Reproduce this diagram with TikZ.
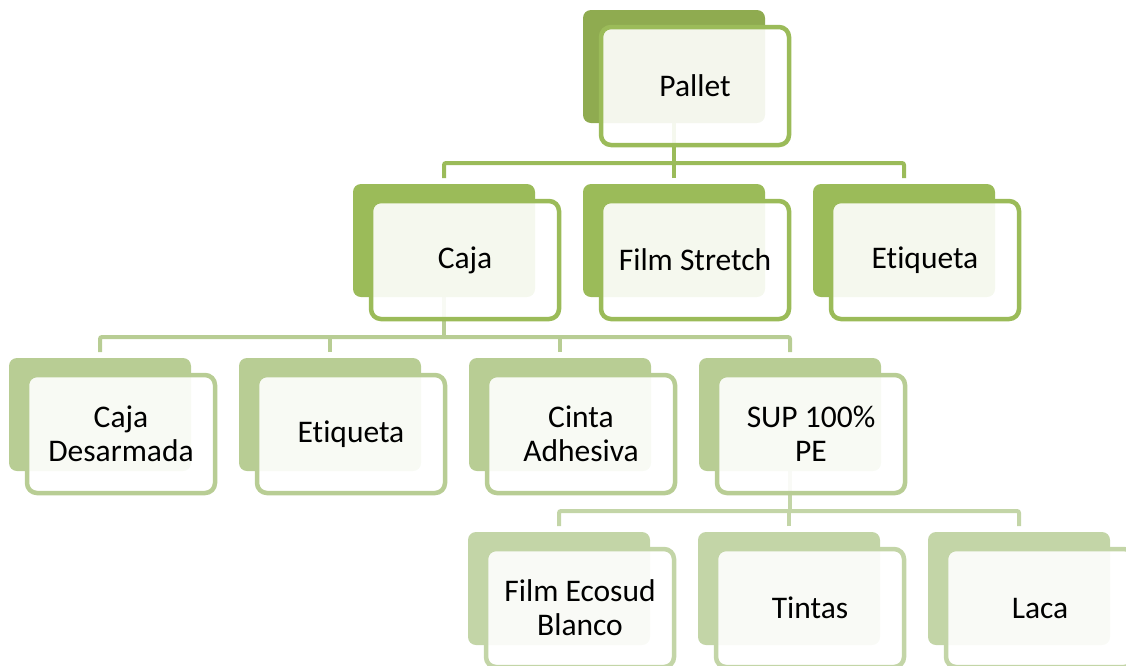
\documentclass[tikz,border=0pt]{standalone}
\usepackage{fontspec}
\setmainfont{Carlito}[Ligatures={NoCommon},RawFeature={-calt}]
\definecolor{gA}{HTML}{8FAB50}
\definecolor{gB}{HTML}{9BBB59}
\definecolor{gC}{HTML}{B8CD94}
\definecolor{gD}{HTML}{C3D5A7}
\tikzset{
  backbox/.style={rectangle, rounded corners=8pt, minimum width=182pt, minimum height=113pt, inner sep=0pt, outer sep=0pt, anchor=north west, draw=none},
  frontbox/.style={rectangle, rounded corners=10pt, minimum width=188pt, minimum height=118pt, inner sep=0pt, outer sep=0pt, anchor=north west, line width=4.5pt, fill=white, fill opacity=0.9, text opacity=1, align=center, font=\fontsize{31.5}{34}\selectfont},
  conn/.style={line width=4pt, rounded corners=2pt}
}
\newcommand{\orgitem}[6]{%
  \node[backbox, fill=#5] (#1) at (#2,#3) {};
  \node[frontbox, draw=#6] (#1f) at (#2+18,#3+17) {#4};
}
\begin{document}
\begin{tikzpicture}[x=1pt,y=-1pt]
\useasboundingbox (0,0) rectangle (1126,665);
\clip (0,0) rectangle (1126,665);
\coordinate (b1) at (674,163);
\coordinate (b2) at (444,337);
\coordinate (b3) at (790,511);
\node[backbox] (p0) at (583,10) {};
\node[backbox] (c0) at (353,184) {};
\node[backbox] (f0) at (583,184) {};
\node[backbox] (e0) at (813,184) {};
\node[backbox] (d0) at (9,358) {};
\node[backbox] (t0) at (239,358) {};
\node[backbox] (a0) at (469,358) {};
\node[backbox] (s0) at (699,358) {};
\node[backbox] (fe0) at (468,532) {};
\node[backbox] (ti0) at (698,532) {};
\node[backbox] (la0) at (928,532) {};
% connectors
\draw[conn, draw=gB] ([yshift=6pt]c0.north) |- (b1) -| ([yshift=6pt]e0.north);
\draw[conn, draw=gB] (p0.south) -- (p0.south |- b1);
\draw[conn, draw=gB] ([yshift=6pt]f0.north) -- (f0.north |- b1);
\draw[conn, draw=gC] ([yshift=6pt]d0.north) |- (b2) -| ([yshift=6pt]s0.north);
\draw[conn, draw=gC] (c0.south) -- (c0.south |- b2);
\draw[conn, draw=gC] ([yshift=6pt]t0.north) -- (t0.north |- b2);
\draw[conn, draw=gC] ([yshift=6pt]a0.north) -- (a0.north |- b2);
\draw[conn, draw=gD] ([yshift=6pt]fe0.north) |- (b3) -| ([yshift=6pt]la0.north);
\draw[conn, draw=gD] (s0.south) -- (s0.south |- b3);
\draw[conn, draw=gD] ([yshift=6pt]ti0.north) -- (ti0.north |- b3);
% boxes
\orgitem{p}{583}{10}{Pallet}{gA}{gB}
\orgitem{c}{353}{184}{Caja}{gB}{gB}
\orgitem{f}{583}{184}{Film Stretch}{gB}{gB}
\orgitem{e}{813}{184}{Et\kern0pt iqueta}{gB}{gB}
\orgitem{d}{9}{358}{Caja\\Desarmada}{gC}{gC}
\orgitem{t}{239}{358}{Et\kern0pt iqueta}{gC}{gC}
\orgitem{a}{469}{358}{Cinta\\Adhesiva}{gC}{gC}
\orgitem{s}{699}{358}{SUP 100\%\\PE}{gC}{gC}
\orgitem{fe}{468}{532}{Film Ecosud\\Blanco}{gD}{gD}
\orgitem{ti}{698}{532}{Tintas}{gD}{gD}
\orgitem{la}{928}{532}{Laca}{gD}{gD}
\end{tikzpicture}
\end{document}
